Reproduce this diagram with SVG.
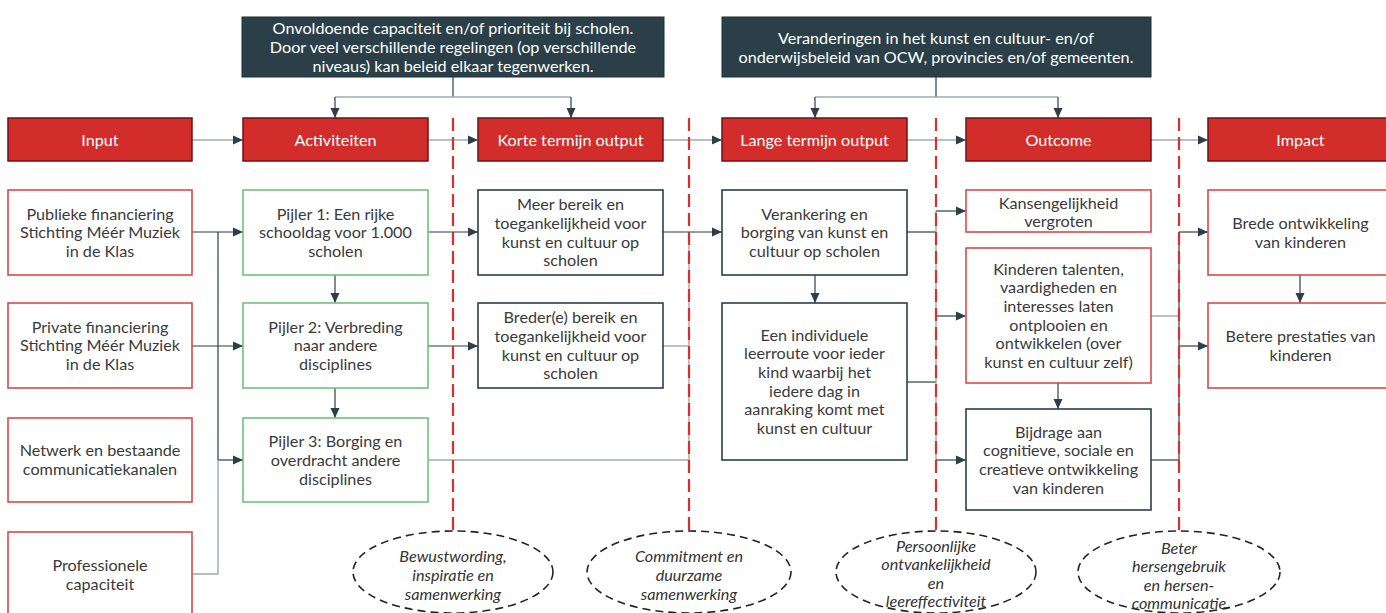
<svg xmlns="http://www.w3.org/2000/svg" width="1386" height="613" viewBox="0 0 1386 613">
<style>
text{font-family:Lato,"Noto Sans","DejaVu Sans",sans-serif;font-size:16.2px;fill:#3a3a3a;text-anchor:middle}
.hdr rect{fill:#2a3f48;stroke:#1e2e35;stroke-width:1}
.hdr text{fill:#ffffff}
.stage rect{fill:#d22c2b;stroke:#6e1212;stroke-width:1.5}
.stage text{fill:#ffffff}
.rb{fill:#ffffff;stroke:#e04848;stroke-width:1.6}
.gb{fill:#ffffff;stroke:#6cc47d;stroke-width:1.6}
.db{fill:#ffffff;stroke:#2b3f47;stroke-width:1.6}
.c{fill:none;stroke:#2b3f47;stroke-width:1.2}
.g{fill:none;stroke:#9aabb0;stroke-width:1.4}
.ar{marker-end:url(#a)}
.div{stroke:#d9302f;stroke-width:2.2;stroke-dasharray:13 6;fill:none}
.el ellipse{fill:#ffffff;stroke:#222222;stroke-width:1.6;stroke-dasharray:8 5}
.el text{font-style:italic;font-size:16.2px;fill:#333333}
</style>
<defs>
<marker id="a" viewBox="0 0 10 10" refX="10" refY="5" markerWidth="10" markerHeight="10" markerUnits="userSpaceOnUse" orient="auto">
<path d="M0,0.5 L10,5 L0,9.5 z" fill="#2b3f47"/>
</marker>
</defs>
<rect width="1386" height="613" fill="#ffffff"/>

<g id="connectors">
<path class="c" d="M453,77 V97"/>
<path class="g" d="M335,97 H571"/>
<path class="c ar" d="M335,97 V118"/>
<path class="c ar" d="M571,97 V118"/>
<path class="c" d="M936,77 V97"/>
<path class="g" d="M815,97 H1058"/>
<path class="c ar" d="M815,97 V118"/>
<path class="c ar" d="M1058,97 V118"/>
<path class="g ar" d="M192,140 H243"/>
<path class="g ar" d="M428,140 H478"/>
<path class="g ar" d="M663,140 H722"/>
<path class="g ar" d="M907,140 H966"/>
<path class="g ar" d="M1151,140 H1208"/>
<path class="c ar" d="M192,232 H243"/>
<path class="c" d="M218,232 V460"/>
<path class="c ar" d="M192,346 H243"/>
<path class="c ar" d="M218,460 H243"/>
<path class="g" d="M218,460 V574 H192"/>
<path class="c ar" d="M335,275 V303"/>
<path class="c ar" d="M335,388 V418"/>
<path class="c ar" d="M428,232 H478"/>
<path class="c ar" d="M428,346 H478"/>
<path class="g" d="M428,460 H689"/>
<path class="g" d="M663,346 H689"/>
<path class="g" d="M689,232 V460"/>
<path class="c ar" d="M663,232 H722"/>
<path class="c ar" d="M815,275 V303"/>
<path class="c" d="M907,232 H936"/>
<path class="c" d="M907,382 H936"/>
<path class="g" d="M936,211 V460"/>
<path class="c ar" d="M936,211 H966"/>
<path class="c ar" d="M936,316 H966"/>
<path class="c ar" d="M936,460 H966"/>
<path class="c ar" d="M1058,383 V409"/>
<path class="g" d="M1151,316 H1179"/>
<path class="c" d="M1151,460 H1179"/>
<path class="c" d="M1179,232 V460"/>
<path class="c ar" d="M1179,232 H1208"/>
<path class="c ar" d="M1179,346 H1208"/>
<path class="c ar" d="M1300,275 V303"/>
</g>

<g id="dividers">
<path class="div" d="M453,118 V531"/>
<path class="div" d="M689,118 V531"/>
<path class="div" d="M936,118 V531"/>
<path class="div" d="M1179,118 V531"/>
</g>

<g id="hdr1" class="hdr">
<rect x="242" y="17" width="422" height="60"/>
<text x="453" y="33.5">Onvoldoende capaciteit en/of prioriteit bij scholen.</text>
<text x="453" y="52.5">Door veel verschillende regelingen (op verschillende</text>
<text x="453" y="71.5">niveaus) kan beleid elkaar tegenwerken.</text>
</g>
<g id="hdr2" class="hdr">
<rect x="722" y="17" width="429" height="60"/>
<text x="936" y="43.5">Veranderingen in het kunst en cultuur- en/of</text>
<text x="936" y="62.5">onderwijsbeleid van OCW, provincies en/of gemeenten.</text>
</g>

<g id="st-input" class="stage"><rect x="8" y="118" width="184" height="43"/><text x="100" y="145.5">Input</text></g>
<g id="st-activiteiten" class="stage"><rect x="243" y="118" width="185" height="43"/><text x="335.5" y="145.5">Activiteiten</text></g>
<g id="st-korte" class="stage"><rect x="478" y="118" width="185" height="43"/><text x="570.5" y="145.5">Korte termijn output</text></g>
<g id="st-lange" class="stage"><rect x="722" y="118" width="185" height="43"/><text x="814.5" y="145.5">Lange termijn output</text></g>
<g id="st-outcome" class="stage"><rect x="966" y="118" width="185" height="43"/><text x="1058.5" y="145.5">Outcome</text></g>
<g id="st-impact" class="stage"><rect x="1208" y="118" width="185" height="43"/><text x="1300.5" y="145.5">Impact</text></g>

<g id="in-publiek"><rect class="rb" x="8" y="190" width="184" height="85"/>
<text x="100" y="219.5">Publieke financiering</text><text x="100" y="238">Stichting Méér Muziek</text><text x="100" y="256.5">in de Klas</text></g>
<g id="in-privaat"><rect class="rb" x="8" y="303" width="184" height="85"/>
<text x="100" y="332.5">Private financiering</text><text x="100" y="351">Stichting Méér Muziek</text><text x="100" y="369.5">in de Klas</text></g>
<g id="in-netwerk"><rect class="rb" x="8" y="418" width="184" height="84"/>
<text x="100" y="456">Netwerk en bestaande</text><text x="100" y="475">communicatiekanalen</text></g>
<g id="in-prof"><rect class="rb" x="8" y="532" width="184" height="85"/>
<text x="100" y="570.5">Professionele</text><text x="100" y="589.5">capaciteit</text></g>

<g id="pijler1"><rect class="gb" x="243" y="190" width="185" height="85"/>
<text x="335.5" y="219.5">Pijler 1: Een rijke</text><text x="335.5" y="238">schooldag voor 1.000</text><text x="335.5" y="256.5">scholen</text></g>
<g id="pijler2"><rect class="gb" x="243" y="303" width="185" height="85"/>
<text x="335.5" y="332.5">Pijler 2: Verbreding</text><text x="335.5" y="351">naar andere</text><text x="335.5" y="369.5">disciplines</text></g>
<g id="pijler3"><rect class="gb" x="243" y="418" width="185" height="84"/>
<text x="335.5" y="446.5">Pijler 3: Borging en</text><text x="335.5" y="465.5">overdracht andere</text><text x="335.5" y="484.5">disciplines</text></g>

<g id="ko-meer"><rect class="db" x="478" y="190" width="185" height="85"/>
<text x="570.5" y="210">Meer bereik en</text><text x="570.5" y="228.5">toegankelijkheid voor</text><text x="570.5" y="247.5">kunst en cultuur op</text><text x="570.5" y="266">scholen</text></g>
<g id="ko-breder"><rect class="db" x="478" y="303" width="185" height="85"/>
<text x="570.5" y="323">Breder(e) bereik en</text><text x="570.5" y="341.5">toegankelijkheid voor</text><text x="570.5" y="360.5">kunst en cultuur op</text><text x="570.5" y="379">scholen</text></g>

<g id="lo-verankering"><rect class="db" x="722" y="190" width="185" height="85"/>
<text x="814.5" y="219.5">Verankering en</text><text x="814.5" y="238">borging van kunst en</text><text x="814.5" y="256.5">cultuur op scholen</text></g>
<g id="lo-leerroute"><rect class="db" x="722" y="303" width="185" height="157"/>
<text x="814.5" y="340.5">Een individuele</text><text x="814.5" y="359">leerroute voor ieder</text><text x="814.5" y="377.5">kind waarbij het</text><text x="814.5" y="396.5">iedere dag in</text><text x="814.5" y="415">aanraking komt met</text><text x="814.5" y="433.5">kunst en cultuur</text></g>

<g id="oc-kansen"><rect class="rb" x="966" y="190" width="185" height="42"/>
<text x="1058.5" y="208.5">Kansengelijkheid</text><text x="1058.5" y="227">vergroten</text></g>
<g id="oc-talenten"><rect class="rb" x="966" y="248" width="185" height="135"/>
<text x="1058.5" y="274.5">Kinderen talenten,</text><text x="1058.5" y="293">vaardigheden en</text><text x="1058.5" y="311.5">interesses laten</text><text x="1058.5" y="330.5">ontplooien en</text><text x="1058.5" y="349">ontwikkelen (over</text><text x="1058.5" y="367.5">kunst en cultuur zelf)</text></g>
<g id="oc-bijdrage"><rect class="db" x="966" y="409" width="185" height="101"/>
<text x="1058.5" y="437.5">Bijdrage aan</text><text x="1058.5" y="456">cognitieve, sociale en</text><text x="1058.5" y="474.5">creatieve ontwikkeling</text><text x="1058.5" y="493.5">van kinderen</text></g>

<g id="im-brede"><rect class="rb" x="1208" y="190" width="185" height="85"/>
<text x="1300.5" y="228.5">Brede ontwikkeling</text><text x="1300.5" y="247.5">van kinderen</text></g>
<g id="im-betere"><rect class="rb" x="1208" y="303" width="185" height="85"/>
<text x="1300.5" y="341.5">Betere prestaties van</text><text x="1300.5" y="360.5">kinderen</text></g>

<g id="el1" class="el"><ellipse cx="453" cy="572" rx="100" ry="41"/>
<text x="453" y="561.5">Bewustwording,</text><text x="453" y="580.5">inspiratie en</text><text x="453" y="599.5">samenwerking</text></g>
<g id="el2" class="el"><ellipse cx="689" cy="572" rx="102" ry="41"/>
<text x="689" y="561.5">Commitment en</text><text x="689" y="580.5">duurzame</text><text x="689" y="599.5">samenwerking</text></g>
<g id="el3" class="el"><ellipse cx="936" cy="572" rx="100" ry="41"/>
<text x="936" y="551.5">Persoonlijke</text><text x="936" y="569.5">ontvankelijkheid</text><text x="936" y="588.5">en</text><text x="936" y="606.5">leereffectiviteit</text></g>
<g id="el4" class="el"><ellipse cx="1179" cy="572" rx="101" ry="41"/>
<text x="1179" y="553.5">Beter</text><text x="1179" y="571.5">hersengebruik</text><text x="1179" y="590.5">en hersen-</text><text x="1179" y="608.5">communicatie</text></g>
</svg>
